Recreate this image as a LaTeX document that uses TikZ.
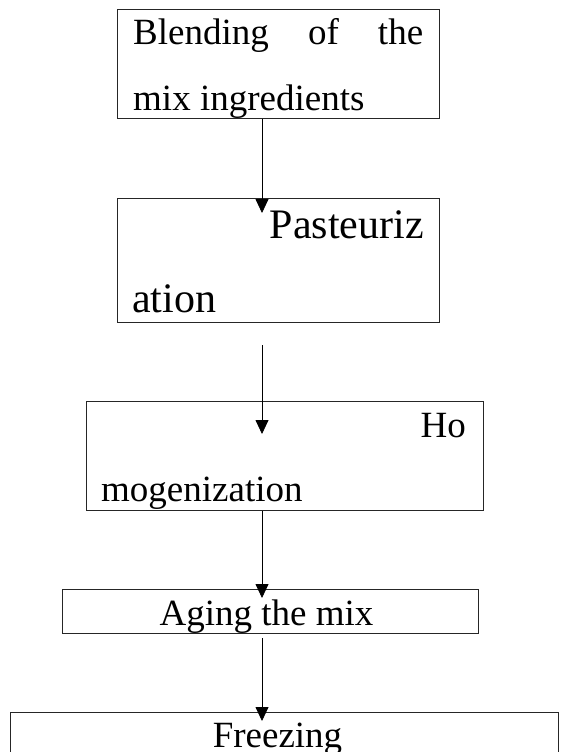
\documentclass[tikz,border=0pt]{standalone}
\usepackage{fontspec}
\setmainfont{Liberation Serif}
\usetikzlibrary{arrows.meta}
\begin{document}
\begin{tikzpicture}[x=1pt,y=-1pt,
  box/.style={draw=black!85, line width=1pt, rectangle, inner sep=0pt, minimum width=#1},
  txt/.style={inner sep=0pt, font=\fontsize{37}{44}\selectfont},
  bigtxt/.style={inner sep=0pt, font=\fontsize{42}{50}\selectfont},
  arr/.style={line width=0.8pt, -{Triangle[width=13pt,length=14pt]}}]
\useasboundingbox (0,0) rectangle (567,752);
\clip (0,0) rectangle (567,752);
% boxes
\node[box=321.5pt, minimum height=108pt] (b1) at (278.25,64) {};
\node[box=321.5pt, minimum height=124pt] (b2) at (278.25,260) {};
\node[box=397pt, minimum height=109pt] (b3) at (284.5,455.5) {};
\node[box=416pt, minimum height=44pt] (b4) at (270,611) {};
\node[box=548pt, minimum height=80pt] (b5) at (284,752) {};
% texts
\node[txt, anchor=base west] (l1a) at (133,45) {\makebox[290pt][s]{Blending of the}};
\node[txt, anchor=base west] (l1b) at (133,110) {mix ingredients};
\node[bigtxt, anchor=base east] (l2a) at (424,238) {Pasteuriz};
\node[bigtxt, anchor=base west] (l2b) at (132,312) {ation};
\node[txt, anchor=base east] (l3a) at (466,437) {Ho};
\node[txt, anchor=base west] (l3b) at (101,501) {mogenization};
\node[txt, anchor=base] (l4) at (266.5,625) {Aging the mix};
\node[txt, anchor=base] (l5) at (277.5,747) {Freezing};
% connectors
\coordinate (t1) at (262,213);
\coordinate (s2) at (262,345);
\coordinate (t2) at (262,434);
\coordinate (t3) at (262,598);
\coordinate (s4) at (262,638);
\coordinate (t4) at (262,721);
\draw[arr] (b1.south -| t1) -- (t1);
\draw[arr] (s2) -- (t2);
\draw[arr] (b3.south -| t3) -- (t3);
\draw[arr] (s4) -- (t4);
\end{tikzpicture}
\end{document}
